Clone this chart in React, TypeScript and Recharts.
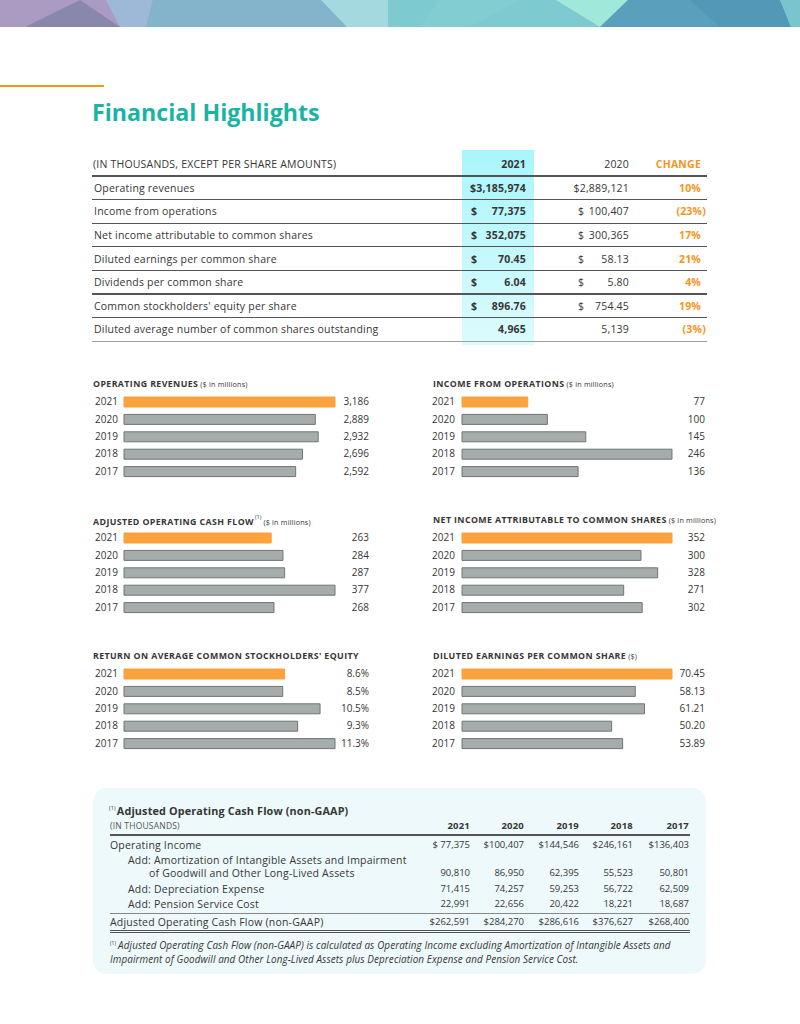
import React from 'react';
import { BarChart, Bar, XAxis, YAxis, Cell } from 'recharts';

// five-year bar panels
const years = ['2021', '2020', '2019', '2018', '2017'];
const operatingRevenues = [3186, 2889, 2932, 2696, 2592];
const incomeFromOperations = [77, 100, 145, 246, 136];
const adjustedCashFlow = [263, 284, 287, 377, 268];
const netIncomeCommon = [352, 300, 328, 271, 302];
const returnOnEquity = [8.6, 8.5, 10.5, 9.3, 11.3];
const dilutedEps = [70.45, 58.13, 61.21, 50.2, 53.89];

// highlights table
const highlightLabels = [
  'Operating revenues',
  'Income from operations',
  'Net income attributable to common shares',
  'Diluted earnings per common share',
  'Dividends per common share',
  "Common stockholders' equity per share",
  'Diluted average number of common shares outstanding',
];
const highlight2021 = ['$3,185,974', '77,375', '352,075', '70.45', '6.04', '896.76', '4,965'];
const highlight2020 = ['$2,889,121', '100,407', '300,365', '58.13', '5.80', '754.45', '5,139'];
// 'tight' = sign is part of the number, 'split' = sign sits at the column's left edge
const highlightDollar = ['tight', 'split', 'split', 'split', 'split', 'split', 'none'];
const highlightChange = ['10%', '(23%)', '17%', '21%', '4%', '19%', '(3%)'];

// adjusted operating cash flow reconciliation
const reconYears = ['2021', '2020', '2019', '2018', '2017'];
const operatingIncome = ['$ 77,375', '$100,407', '$144,546', '$246,161', '$136,403'];
const amortization = ['90,810', '86,950', '62,395', '55,523', '50,801'];
const depreciation = ['71,415', '74,257', '59,253', '56,722', '62,509'];
const pensionCost = ['22,991', '22,656', '20,422', '18,221', '18,687'];
const adjustedTotal = ['$262,591', '$284,270', '$286,616', '$376,627', '$268,400'];

const ink = '#363636';
const orange = '#f7941d';
const barOrange = '#fba33f';
const barGray = '#a6abab';
const barEdge = '#6f7676';
const body = '"Open Sans", sans-serif';

const fmtInt = (n: number) => n.toLocaleString('en-US');
const fmtPct = (n: number) => n.toFixed(1) + '%';
const fmtEps = (n: number) => n.toFixed(2);

type Geo = { x: number; yearPad: number; axisW: number; plotW: number; rightW: number; valueAt: number };
const leftCol: Geo = { x: 92, yearPad: 3, axisW: 32, plotW: 211, rightW: 37, valueAt: 34 };
const rightCol: Geo = { x: 432, yearPad: 0, axisW: 30, plotW: 210, rightW: 35, valueAt: 33 };

interface PanelProps {
  title: string;
  sup?: string;
  note?: string;
  values: number[];
  fmt: (n: number) => string;
  geo: Geo;
  y: number;
}

const BarPanel = ({ title, sup, note, values, fmt, geo, y }: PanelProps) => {
  const rows = years.map((year, i) => ({ year, value: values[i], label: fmt(values[i]) }));
  const yearTick = (p: any) => (
    <text x={p.x - geo.axisW + geo.yearPad} y={p.y} dy="0.35em" textAnchor="start"
      fontSize={10} fill={ink} fontFamily={body}>{p.payload.value}</text>
  );
  const valueTick = (p: any) => (
    <text x={p.x + geo.valueAt} y={p.y} dy="0.35em" textAnchor="end"
      fontSize={10} fill={ink} fontFamily={body}>{rows[p.index]?.label}</text>
  );
  return (
    <div style={{ position: 'absolute', left: geo.x, top: y - 7 }}>
      <div style={{ position: 'absolute', left: 1, top: 0, whiteSpace: 'nowrap', lineHeight: '12px', fontFamily: body, color: ink }}>
        <span style={{ fontSize: 8.8, fontWeight: 700, letterSpacing: 0.4 }}>{title}</span>
        {sup && <sup style={{ fontSize: 5.5, marginLeft: 1 }}>{sup}</sup>}
        {note && <span style={{ fontSize: 7.2, letterSpacing: 0.2, marginLeft: 2 }}>{note}</span>}
      </div>
      <div style={{ position: 'absolute', left: 0, top: 18 }}>
        <BarChart width={geo.axisW + geo.plotW + geo.rightW} height={87} data={rows} layout="vertical"
          margin={{ top: 0, right: 0, bottom: 0, left: 0 }}>
          <XAxis type="number" hide domain={[0, 'dataMax']} />
          <YAxis yAxisId="years" type="category" dataKey="year" width={geo.axisW}
            axisLine={false} tickLine={false} tickSize={0} tickMargin={0} tick={yearTick} interval={0} />
          <YAxis yAxisId="values" orientation="right" type="category" dataKey="year" width={geo.rightW}
            axisLine={false} tickLine={false} tickSize={0} tickMargin={0} tick={valueTick} interval={0} />
          <Bar yAxisId="years" dataKey="value" barSize={10} isAnimationActive={false}>
            {rows.map((r, i) => (
              <Cell key={r.year} fill={i === 0 ? barOrange : barGray} stroke={i === 0 ? '#f8a03a' : barEdge} strokeWidth={1} />
            ))}
          </Bar>
        </BarChart>
      </div>
    </div>
  );
};

const Banner = () => (
  <svg width={800} height={27} style={{ position: 'absolute', left: 0, top: 0 }}>
    <rect x={0} y={0} width={800} height={27} fill="#86b3cc" />
    <polygon points="0,0 160,0 120,27 0,27" fill="#a99bc1" />
    <polygon points="25,27 80,0 120,27" fill="#8a87ad" />
    <polygon points="106,0 153,0 146,27 120,27" fill="#9eb8d7" />
    <polygon points="146,27 153,0 330,0 345,27" fill="#84b4cc" />
    <polygon points="321,0 388,0 388,27 347,27" fill="#a3d9df" />
    <polygon points="388,0 560,0 600,27 388,27" fill="#7dcad0" />
    <polygon points="440,0 520,0 470,27 420,27" fill="#84cfd3" opacity={0.6} />
    <polygon points="556,0 628,0 600,27" fill="#a0e8d9" />
    <polygon points="600,27 628,0 780,0 791,27" fill="#5aa0bd" />
    <polygon points="690,0 780,0 791,27 720,27" fill="#4f92b2" opacity={0.6} />
    <polygon points="780,0 800,0 800,27 791,27" fill="#79c5ce" />
  </svg>
);

const Line = ({ x1, x2, y, color, w = 1 }: { x1: number; x2: number; y: number; color: string; w?: number }) => (
  <div style={{ position: 'absolute', left: x1, top: y - w / 2, width: x2 - x1, height: w, background: color }} />
);

const Txt = ({ x, y, children, align = 'left', size = 10.5, weight = 400, color = ink, italic = false, ls = 0.2 }: any) => (
  <div style={{
    position: 'absolute', top: y - 8, height: 16, lineHeight: '16px', whiteSpace: 'nowrap',
    ...(align === 'right' ? { right: 800 - x } : { left: x }),
    fontSize: size, fontWeight: weight, color, fontStyle: italic ? 'italic' : 'normal', fontFamily: body, letterSpacing: ls,
  }}>{children}</div>
);

const rowStep = 23.6;
const rowCenter = (i: number) => 176 + rowStep * i + rowStep / 2;
const reconCols = [470, 524, 579, 633, 689];

export default function App() {
  return (
    <div style={{ position: 'absolute', left: 0, top: 0, width: 800, height: 1024, background: '#fff', overflow: 'hidden' }}>
      <Banner />
      <Line x1={0} x2={104} y={85.5} color={orange} w={2} />
      <div style={{ position: 'absolute', left: 92, top: 101, fontFamily: body, fontWeight: 700, fontSize: 23.2, lineHeight: '22px', color: '#19b4a2', letterSpacing: 0 }}>
        Financial Highlights
      </div>

      {/* highlights table */}
      <div style={{ position: 'absolute', left: 462, top: 150, width: 72, height: 195, background: 'linear-gradient(#a9f6fb, #dcfbfd)' }} />
      <Txt x={93} y={164}>(IN THOUSANDS, EXCEPT PER SHARE AMOUNTS)</Txt>
      <Txt x={526} y={164} align="right" weight={700}>2021</Txt>
      <Txt x={629} y={164} align="right">2020</Txt>
      <Txt x={701} y={164} align="right" weight={700} color={orange}>CHANGE</Txt>
      {[0, 1, 2, 3, 4, 5, 6, 7].map((i) => (
        <Line key={i} x1={92} x2={707} y={176 + rowStep * i} color={i === 7 ? '#a0a0a0' : '#555'} w={i === 0 ? 1.5 : 1.2} />
      ))}
      {highlightLabels.map((label, i) => (
        <React.Fragment key={label}>
          <Txt x={94} y={rowCenter(i)}>{label}</Txt>
          {highlightDollar[i] === 'split' && <Txt x={471} y={rowCenter(i)} weight={700}>$</Txt>}
          <Txt x={526} y={rowCenter(i)} align="right" weight={700}>{highlight2021[i]}</Txt>
          {highlightDollar[i] === 'split' && <Txt x={578} y={rowCenter(i)}>$</Txt>}
          <Txt x={629} y={rowCenter(i)} align="right">{highlight2020[i]}</Txt>
          <Txt x={highlightChange[i].includes('(') ? 706 : 701} y={rowCenter(i)} align="right" weight={700} color={orange}>
            {highlightChange[i]}
          </Txt>
        </React.Fragment>
      ))}

      {/* bar panels */}
      <BarPanel title="OPERATING REVENUES" note="($ in millions)" values={operatingRevenues} fmt={fmtInt} geo={leftCol} y={382} />
      <BarPanel title="INCOME FROM OPERATIONS" note="($ in millions)" values={incomeFromOperations} fmt={fmtInt} geo={rightCol} y={382} />
      <BarPanel title="ADJUSTED OPERATING CASH FLOW" sup="(1)" note="($ in millions)" values={adjustedCashFlow} fmt={fmtInt} geo={leftCol} y={518} />
      <BarPanel title="NET INCOME ATTRIBUTABLE TO COMMON SHARES" note="($ in millions)" values={netIncomeCommon} fmt={fmtInt} geo={rightCol} y={518} />
      <BarPanel title="RETURN ON AVERAGE COMMON STOCKHOLDERS' EQUITY" values={returnOnEquity} fmt={fmtPct} geo={leftCol} y={654} />
      <BarPanel title="DILUTED EARNINGS PER COMMON SHARE" note="($)" values={dilutedEps} fmt={fmtEps} geo={rightCol} y={654} />

      {/* reconciliation box */}
      <div style={{ position: 'absolute', left: 93, top: 788, width: 613, height: 186, borderRadius: 14, background: '#edf9fb' }} />
      <div style={{ position: 'absolute', left: 109, top: 800, lineHeight: '16px', fontFamily: body, fontSize: 10.8, fontWeight: 700, color: ink, whiteSpace: 'nowrap', letterSpacing: 0.15 }}>
        <sup style={{ fontSize: 5.5, fontWeight: 400, marginRight: 1 }}>(1)</sup>Adjusted Operating Cash Flow (non-GAAP)
      </div>
      <Txt x={110} y={826} size={8.5} color="#555">(IN THOUSANDS)</Txt>
      {reconYears.map((yr, j) => (
        <Txt key={yr} x={reconCols[j]} y={826} align="right" size={9.5} weight={700}>{yr}</Txt>
      ))}
      <Line x1={110} x2={690} y={835} color="#555" w={1.5} />
      <Txt x={110} y={845} size={10.5}>Operating Income</Txt>
      <Txt x={128} y={860} size={10.5}>Add: Amortization of Intangible Assets and Impairment</Txt>
      <Txt x={149} y={873} size={10.5}>of Goodwill and Other Long-Lived Assets</Txt>
      <Txt x={128} y={889} size={10.5}>Add: Depreciation Expense</Txt>
      <Txt x={128} y={904} size={10.5}>Add: Pension Service Cost</Txt>
      <Txt x={110} y={922} size={10.5}>Adjusted Operating Cash Flow (non-GAAP)</Txt>
      {reconCols.map((cx, j) => (
        <React.Fragment key={cx}>
          <Txt x={cx} y={845} align="right" size={9.5} ls={0}>{operatingIncome[j]}</Txt>
          <Txt x={cx} y={873} align="right" size={9.5} ls={0}>{amortization[j]}</Txt>
          <Txt x={cx} y={889} align="right" size={9.5} ls={0}>{depreciation[j]}</Txt>
          <Txt x={cx} y={904} align="right" size={9.5} ls={0}>{pensionCost[j]}</Txt>
          <Txt x={cx} y={922} align="right" size={9.5} ls={0}>{adjustedTotal[j]}</Txt>
        </React.Fragment>
      ))}
      <Line x1={110} x2={690} y={913} color="#888" w={1} />
      <Line x1={110} x2={690} y={930} color="#555" w={1} />
      <Line x1={110} x2={690} y={932.5} color="#555" w={1} />
      <div style={{ position: 'absolute', left: 110, top: 936, width: 585, fontFamily: body, fontSize: 9.9, fontStyle: 'italic', lineHeight: '14px', color: ink, letterSpacing: 0.1 }}>
        <sup style={{ fontSize: 5, fontStyle: 'normal', marginRight: 2 }}>(1)</sup>Adjusted Operating Cash Flow (non-GAAP) is calculated as Operating Income excluding Amortization of Intangible Assets and Impairment of Goodwill and Other Long-Lived Assets plus Depreciation Expense and Pension Service Cost.
      </div>
    </div>
  );
}
